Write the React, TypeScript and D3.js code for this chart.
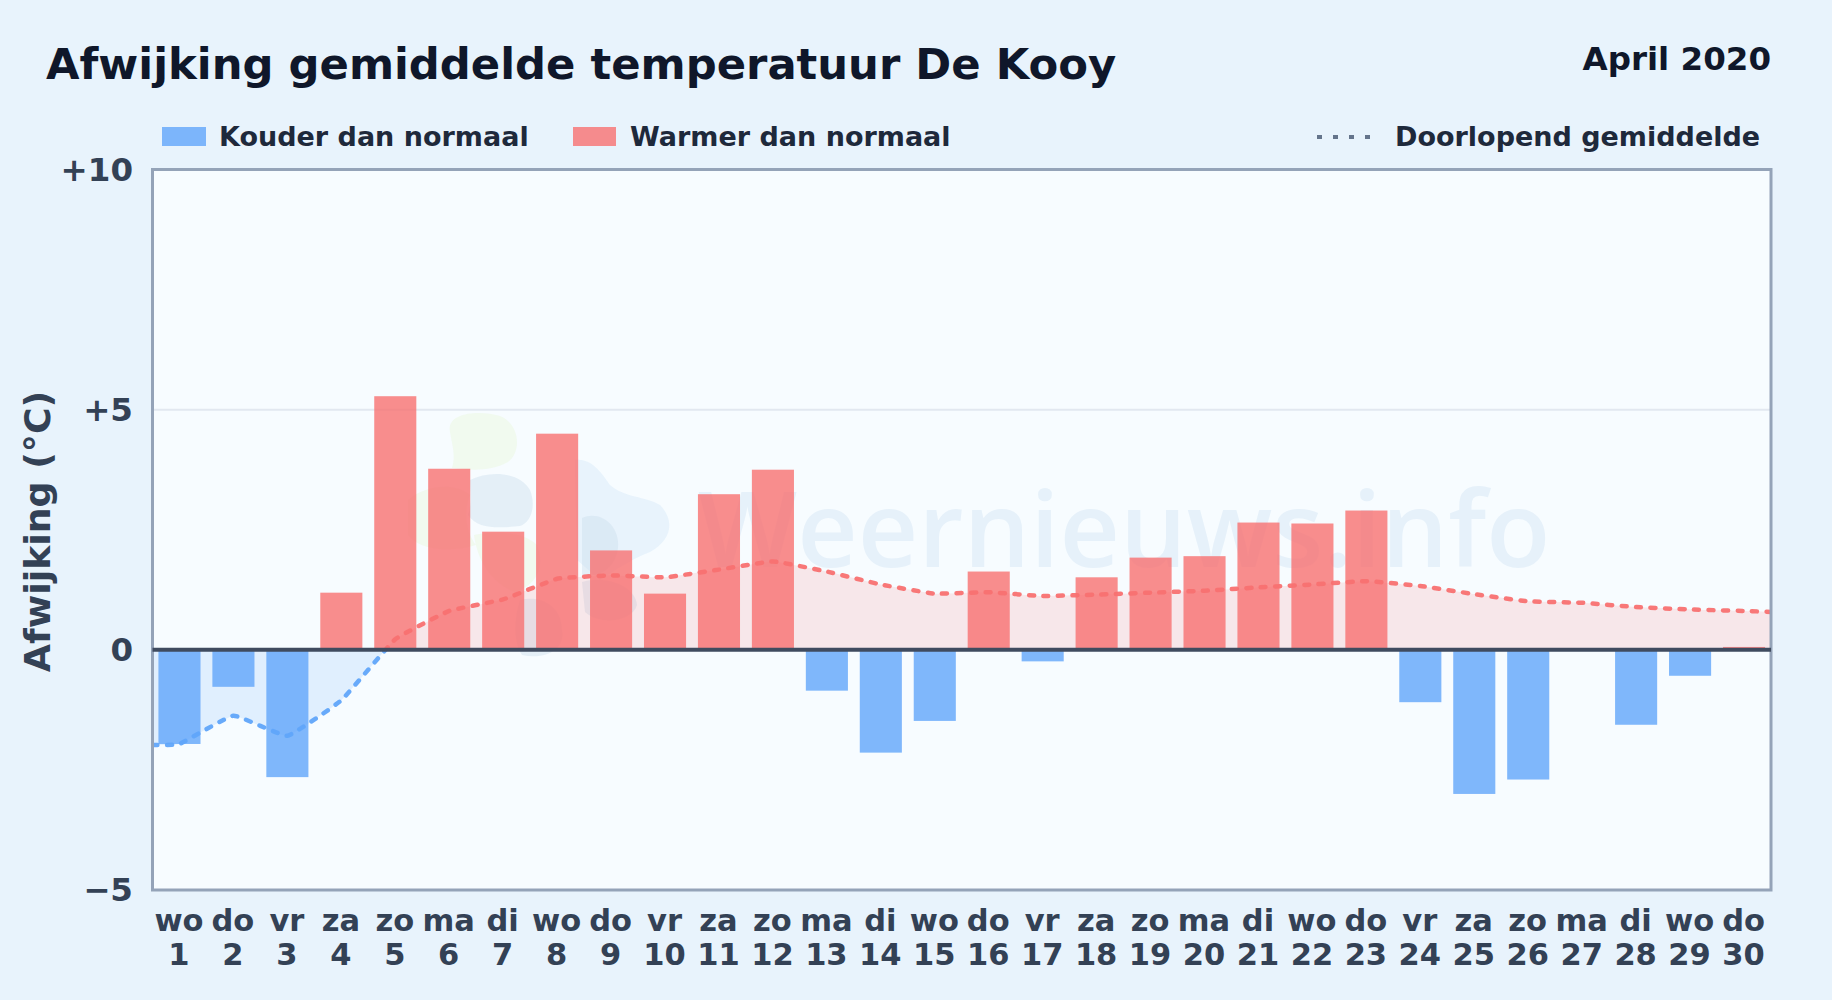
import React from 'react';
import * as d3 from 'd3';

const weekdays = ['wo','do','vr','za','zo','ma','di','wo','do','vr','za','zo','ma','di','wo','do','vr','za','zo','ma','di','wo','do','vr','za','zo','ma','di','wo','do'];
const days = d3.range(1, 31).map(String);
const deviations = [-1.96,-0.77,-2.65,1.19,5.28,3.77,2.46,4.5,2.07,1.17,3.24,3.75,-0.85,-2.14,-1.48,1.63,-0.24,1.51,1.92,1.95,2.65,2.63,2.9,-1.09,-3.0,-2.7,0.02,-1.56,-0.54,0.06];
const runningMean = [-1.96,-1.37,-1.79,-1.05,0.22,0.81,1.05,1.48,1.55,1.51,1.67,1.84,1.63,1.36,1.17,1.2,1.12,1.15,1.19,1.23,1.3,1.36,1.43,1.33,1.16,1.01,0.98,0.89,0.84,0.81];
const meanAtLeftEdge = -1.98;
const meanAtRightEdge = 0.79;
const yTicks = [10, 5, 0, -5];
const yTickLabels = ['+10', '+5', '0', '\u22125'];

const WIDTH = 1832;
const HEIGHT = 1000;
const plot = { left: 152.5, right: 1771, top: 169.5, bottom: 890 };
const FONT = '"DejaVu Sans", sans-serif';
const BLUE = '#60a5fa';
const RED = '#f87171';

// watermark logo blobs, very faint
const logoBlobs = [
  { d: 'M450 432 C446 412 480 410 500 416 C520 424 522 452 508 462 C490 472 470 470 452 468 C456 455 452 445 450 432 Z', fill: '#e6f5d0', o: 0.35 },
  { d: 'M470 480 C490 470 520 472 530 490 C536 505 532 522 520 526 C500 528 478 530 468 515 C472 505 470 490 470 480 Z', fill: '#c9dcec', o: 0.4 },
  { d: 'M408 500 C425 485 455 482 470 495 C462 515 468 535 476 545 C455 552 420 552 408 535 Z', fill: '#e6f5d0', o: 0.35 },
  { d: 'M474 535 C495 530 525 532 537 545 C545 565 538 585 515 592 C495 585 478 565 474 535 Z', fill: '#e6f5d0', o: 0.35 },
  { d: 'M575 460 C590 458 600 470 610 485 C625 498 645 496 660 505 C675 520 672 540 650 552 C630 560 615 570 600 580 L577 560 Z', fill: '#d4e9f9', o: 0.45 },
  { d: 'M582 518 C600 510 620 525 618 548 C615 568 600 578 582 575 Z', fill: '#c9dcec', o: 0.4 },
  { d: 'M582 582 C605 575 635 585 637 605 C632 622 600 626 585 612 Z', fill: '#c9dcec', o: 0.4 },
  { d: 'M520 600 C540 595 562 605 562 630 C566 650 545 660 522 655 C512 640 515 615 520 600 Z', fill: '#c9dcec', o: 0.4 },
];

export default function App() {
  const x = d3.scaleBand<string>()
    .domain(days)
    .range([plot.left, plot.right])
    .paddingInner(0.22)
    .paddingOuter(0.11);
  const y = d3.scaleLinear().domain([-5, 10]).range([plot.bottom, plot.top]);
  const center = (d: string) => (x(d) as number) + x.bandwidth() / 2;

  const meanPoints: [number, number][] = [
    [plot.left, meanAtLeftEdge] as [number, number],
    ...runningMean.map((v, i) => [center(days[i]), v] as [number, number]),
    [plot.right, meanAtRightEdge] as [number, number],
  ];
  const curve = d3.curveCardinal.tension(0.7);
  const line = d3.line<[number, number]>()
    .x(d => d[0])
    .y(d => y(d[1]))
    .curve(curve);
  const area = d3.area<[number, number]>()
    .x(d => d[0])
    .y0(y(0))
    .y1(d => y(d[1]))
    .curve(curve);

  const plotW = plot.right - plot.left;

  return (
    <svg width={WIDTH} height={HEIGHT} viewBox={`0 0 ${WIDTH} ${HEIGHT}`}
      style={{ position: 'absolute', left: 0, top: 0, fontFamily: FONT }}>
      <defs>
        <clipPath id="aboveZero"><rect x={plot.left} y={plot.top} width={plotW} height={y(0) - plot.top} /></clipPath>
        <clipPath id="belowZero"><rect x={plot.left} y={y(0)} width={plotW} height={plot.bottom - y(0)} /></clipPath>
      </defs>

      <rect width={WIDTH} height={HEIGHT} fill="#e8f3fc" />

      <text x={46} y={79} fontSize={43.3} fontWeight="bold" fill="#0f172a">Afwijking gemiddelde temperatuur De Kooy</text>
      <text x={1771} y={70} fontSize={32.5} fontWeight="bold" fill="#0f172a" textAnchor="end">April 2020</text>

      {/* legend */}
      <rect x={162} y={127} width={44} height={19} fill={BLUE} opacity={0.8} />
      <text x={219} y={146} fontSize={27} fontWeight="bold" fill="#1e293b">Kouder dan normaal</text>
      <rect x={573} y={127} width={43} height={19} fill={RED} opacity={0.8} />
      <text x={630} y={146} fontSize={27} fontWeight="bold" fill="#1e293b">Warmer dan normaal</text>
      <line x1={1317} x2={1373} y1={137} y2={137} stroke="#64748b" strokeWidth={4} strokeDasharray="5 11" />
      <text x={1395} y={146} fontSize={27} fontWeight="bold" fill="#1e293b">Doorlopend gemiddelde</text>

      {/* plot */}
      <rect x={plot.left} y={plot.top} width={plotW} height={plot.bottom - plot.top} fill="#f7fcff" />

      {logoBlobs.map((b, i) => <path key={i} d={b.d} fill={b.fill} opacity={b.o} />)}
      <text x={698} y={567} fontSize={105} fontWeight={600} fontFamily='"Open Sans", sans-serif' fill="#e6f1fa">Weernieuws.info</text>

      {yTicks.filter(t => t === 5).map(t => (
        <line key={t} x1={plot.left} x2={plot.right} y1={y(t)} y2={y(t)} stroke="#e2e8f0" strokeWidth={2} />
      ))}

      <path d={area(meanPoints) as string} fill={RED} fillOpacity={0.15} clipPath="url(#aboveZero)" />
      <path d={area(meanPoints) as string} fill={BLUE} fillOpacity={0.15} clipPath="url(#belowZero)" />

      {deviations.map((v, i) => (
        <rect key={i}
          x={x(days[i])}
          y={Math.min(y(v), y(0))}
          width={x.bandwidth()}
          height={Math.abs(y(v) - y(0))}
          fill={v < 0 ? BLUE : RED}
          opacity={0.8} />
      ))}

      <path d={line(meanPoints) as string} fill="none" stroke={RED} strokeWidth={4.5} strokeDasharray="5 9.5" strokeLinecap="round" opacity={0.95} clipPath="url(#aboveZero)" />
      <path d={line(meanPoints) as string} fill="none" stroke={BLUE} strokeWidth={4.5} strokeDasharray="5 9.5" strokeLinecap="round" opacity={0.95} clipPath="url(#belowZero)" />

      <rect x={plot.left} y={plot.top} width={plotW} height={plot.bottom - plot.top} fill="none" stroke="#94a3b8" strokeWidth={3} />
      <line x1={plot.left} x2={plot.right} y1={y(0)} y2={y(0)} stroke="#3f4b5f" strokeWidth={4} />

      {/* axes */}
      {yTicks.map((t, i) => (
        <text key={t} x={133} y={y(t) + 11} fontSize={32.5} fontWeight="bold" fill="#334155" textAnchor="end">{yTickLabels[i]}</text>
      ))}
      <text transform={`translate(50,531.5) rotate(-90)`} fontSize={36.3} fontWeight="bold" fill="#334155" textAnchor="middle">Afwijking (°C)</text>

      {days.map((d, i) => (
        <g key={d} textAnchor="middle" fontSize={30.5} fontWeight="bold" fill="#334155">
          <text x={center(d) - 0.5} y={931}>{weekdays[i]}</text>
          <text x={center(d) - 0.5} y={965}>{d}</text>
        </g>
      ))}
    </svg>
  );
}
